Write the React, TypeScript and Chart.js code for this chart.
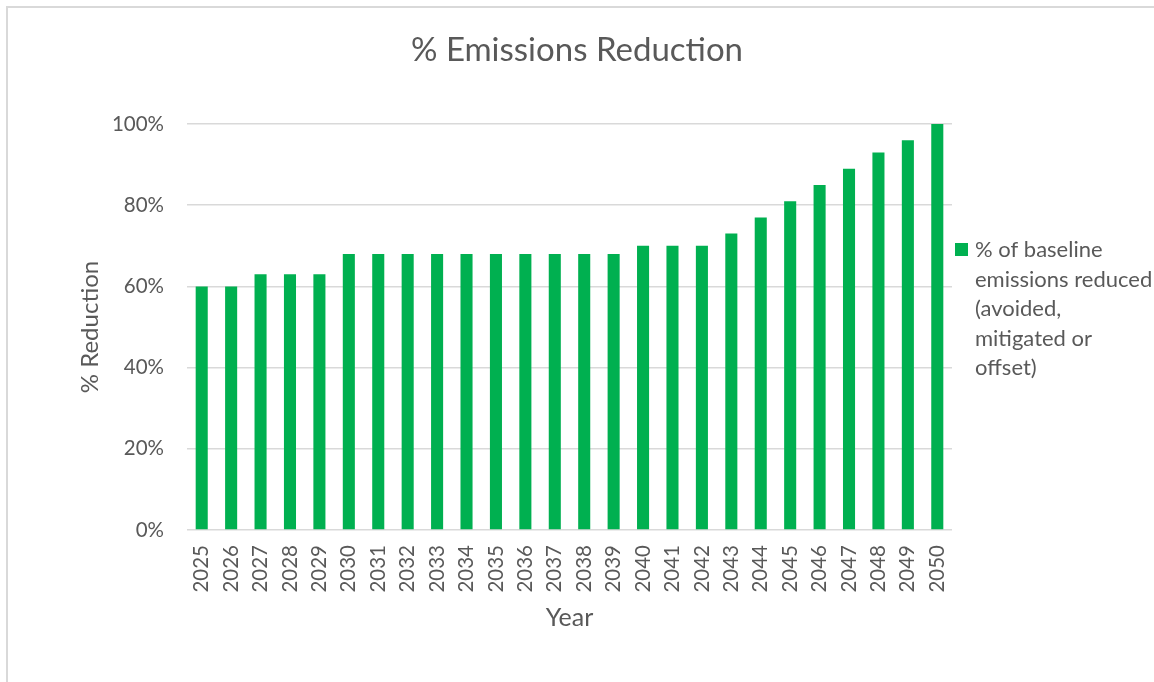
import React, { useEffect, useRef } from "react";
import { Chart, registerables } from "chart.js";

Chart.register(...registerables);

const chartTitle = "% Emissions Reduction";
const xAxisTitle = "Year";
const yAxisTitle = "% Reduction";
const years = [
  "2025", "2026", "2027", "2028", "2029", "2030", "2031", "2032", "2033",
  "2034", "2035", "2036", "2037", "2038", "2039", "2040", "2041", "2042",
  "2043", "2044", "2045", "2046", "2047", "2048", "2049", "2050",
];
const reductionPct = [
  60, 60, 63, 63, 63, 68, 68, 68, 68, 68, 68, 68, 68, 68, 68, 70, 70, 70,
  73, 77, 81, 85, 89, 93, 96, 100,
];
const legendLines = [
  "% of baseline",
  "emissions reduced",
  "(avoided,",
  "mitigated or",
  "offset)",
];

const TEXT = "#595959";
const GRID = "#d9d9d9";
const GREEN = "#00B050";
const FONT = "Lato";

const borderPlugin = {
  id: "outerBorder",
  beforeDraw(chart: any) {
    const ctx = chart.ctx;
    ctx.save();
    ctx.fillStyle = "#ffffff";
    ctx.fillRect(0, 0, chart.width, chart.height);
    ctx.strokeStyle = GRID;
    ctx.lineWidth = 2;
    ctx.strokeRect(7, 7, chart.width + 20, chart.height + 20);
    ctx.restore();
  },
};

const sideLegendPlugin = {
  id: "sideLegend",
  afterDraw(chart: any) {
    const ctx = chart.ctx;
    const area = chart.chartArea;
    const x0 = area.right + 3;
    const y0 = 250;
    ctx.save();
    ctx.fillStyle = GREEN;
    ctx.fillRect(x0, y0 - 7, 13, 13);
    ctx.fillStyle = TEXT;
    ctx.font = `22px ${FONT}`;
    ctx.textBaseline = "middle";
    ctx.textAlign = "left";
    legendLines.forEach((line, i) => {
      ctx.fillText(line, x0 + 20, y0 + i * 29.6);
    });
    ctx.restore();
  },
};

export default function App() {
  const ref = useRef<HTMLCanvasElement | null>(null);

  useEffect(() => {
    if (!ref.current) return;
    Chart.defaults.font.family = FONT;
    const chart = new Chart(ref.current, {
      type: "bar",
      data: {
        labels: years,
        datasets: [
          {
            label: legendLines.join(" "),
            data: reductionPct,
            backgroundColor: GREEN,
            borderWidth: 0,
            barPercentage: 0.41,
            categoryPercentage: 1,
          },
        ],
      },
      options: {
        responsive: false,
        animation: false,
        layout: { padding: { left: 0, right: 0, top: 0, bottom: 0 } },
        plugins: {
          legend: { display: false },
          tooltip: { enabled: false },
          title: {
            display: true,
            text: chartTitle,
            color: TEXT,
            font: { size: 33, weight: "normal", family: FONT },
            padding: { top: 31, bottom: 53.4 },
          },
        },
        scales: {
          x: {
            grid: { display: false, drawTicks: false },
            border: { display: false },
            ticks: {
              color: TEXT,
              font: { size: 20.5, family: FONT },
              minRotation: 90,
              maxRotation: 90,
              autoSkip: false,
              padding: 15,
            },
            title: {
              display: true,
              text: xAxisTitle,
              color: TEXT,
              font: { size: 25, family: FONT },
              padding: { top: 0, bottom: 49 },
            },
            afterFit(scale: any) {
              scale.height = 152;
            },
          },
          y: {
            min: 0,
            max: 100,
            grid: { color: GRID, lineWidth: 1.5, drawTicks: false },
            border: { display: false },
            ticks: {
              stepSize: 20,
              color: TEXT,
              font: { size: 20.5, family: FONT },
              padding: 23,
              callback: (v: any) => `${v}%`,
            },
            title: {
              display: true,
              text: yAxisTitle,
              color: TEXT,
              font: { size: 24, family: FONT },
              padding: { top: 75.6, bottom: 0 },
            },
            afterFit(scale: any) {
              scale.width = 187;
            },
          },
          legendSpace: {
            type: "linear",
            position: "right",
            display: true,
            grid: { display: false, drawTicks: false },
            border: { display: false },
            ticks: { display: false },
            afterFit(scale: any) {
              scale.width = 202;
            },
          },
        },
      },
      plugins: [borderPlugin, sideLegendPlugin],
    });
    return () => chart.destroy();
  }, []);

  return (
    <div style={{ position: "fixed", left: 0, top: 0 }}>
      <canvas ref={ref} width={1154} height={682} style={{ display: "block" }} />
    </div>
  );
}
